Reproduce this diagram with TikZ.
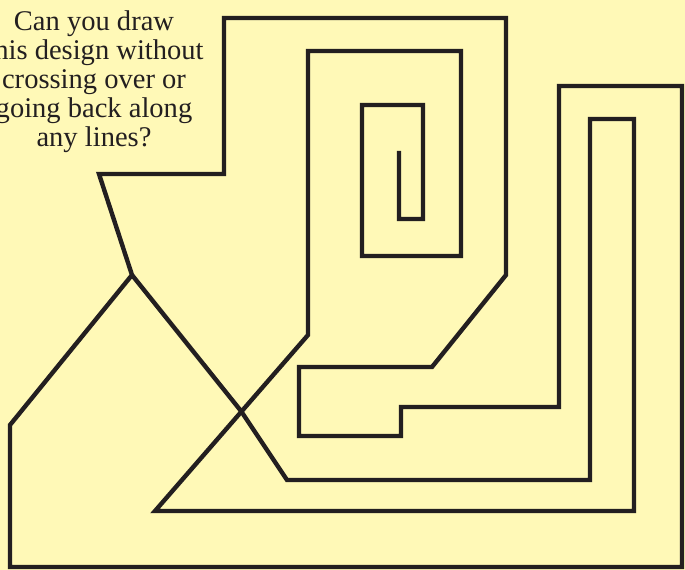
\documentclass[tikz,border=0pt]{standalone}
\usepackage{fontspec}
\setmainfont{Liberation Serif}
\definecolor{bgyellow}{HTML}{FFF9B7}
\definecolor{ink}{HTML}{231F20}
\tikzset{
  maze/.style={draw=ink, line width=3.3pt, line join=miter},
  caption/.style={anchor=base, inner sep=0pt, text=ink, font=\fontsize{21.4}{22}\selectfont}
}
\begin{document}
\begin{tikzpicture}[x=0.75pt, y=-0.75pt]
\useasboundingbox (0,0) rectangle (685,570);
\clip (0,0) rectangle (685,570);
\fill[bgyellow] (0,0) rectangle (685,570);
\node[caption] (t1) at (94,31) {Can you draw};
\node[caption] (t2) at (95,60) {this design without};
\node[caption] (t3) at (94,89) {crossing over or};
\node[caption] (t4) at (94,118) {going back along};
\node[caption] (t5) at (94,147) {any lines?};
\coordinate (J) at (132,275);
\coordinate (X) at (241,411);
\coordinate (E) at (399,151);
\draw[maze] (J) -- (99,174) -- (224,174) -- (224,18) -- (506,18) -- (506,275)
  -- (432,367) -- (299,367) -- (299,436) -- (401,436) -- (401,407) -- (559,407)
  -- (559,86) -- (682,86) -- (682,567) -- (10,567) -- (10,425) -- cycle;
\draw[maze] (J) -- (X) -- (287,480) -- (590,480) -- (590,119) -- (634,119)
  -- (634,511) -- (155,511) -- (308,335) -- (308,51) -- (461,51) -- (461,256)
  -- (362,256) -- (362,105) -- (423,105) -- (423,219) -- (399,219) -- (E);
\end{tikzpicture}
\end{document}
